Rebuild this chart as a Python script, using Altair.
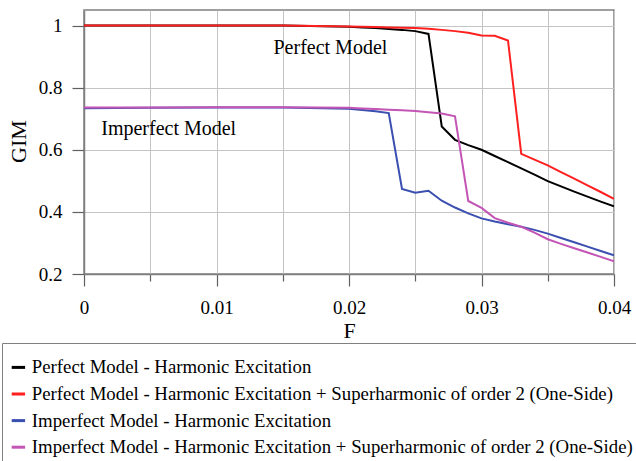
import altair as alt
import pandas as pd

# ---------------- data ----------------
F = [0, 0.005, 0.01, 0.015, 0.02, 0.021, 0.022, 0.023, 0.024, 0.025, 0.026,
     0.027, 0.028, 0.029, 0.030, 0.031, 0.032, 0.033, 0.034, 0.035, 0.036,
     0.037, 0.038, 0.039, 0.040]

perfect_harm = [1.0, 1.0, 1.0, 1.0, 0.996, 0.994, 0.992, 0.989, 0.986, 0.982, 0.973,
                0.675, 0.632, 0.615, 0.600, 0.580, 0.560, 0.540, 0.520, 0.499, 0.482,
                0.465, 0.449, 0.433, 0.418]
perfect_super = [1.0, 1.0, 1.0, 1.0, 0.997, 0.996, 0.995, 0.994, 0.993, 0.992, 0.990,
                 0.986, 0.982, 0.977, 0.968, 0.967, 0.952, 0.587, 0.568, 0.550, 0.528,
                 0.507, 0.485, 0.464, 0.442]
imperfect_harm = [0.734, 0.735, 0.736, 0.736, 0.732, 0.728, 0.724, 0.718, 0.474, 0.462, 0.468,
                  0.436, 0.414, 0.395, 0.379, 0.369, 0.360, 0.352, 0.342, 0.330, 0.316,
                  0.302, 0.288, 0.274, 0.260]
imperfect_super = [0.736, 0.736, 0.737, 0.737, 0.735, 0.733, 0.731, 0.729, 0.727, 0.725, 0.721,
                   0.717, 0.708, 0.435, 0.413, 0.380, 0.365, 0.352, 0.333, 0.312, 0.297,
                   0.283, 0.269, 0.255, 0.241]

series_names = [
    "Perfect Model - Harmonic Excitation",
    "Perfect Model - Harmonic Excitation + Superharmonic of order 2 (One-Side)",
    "Imperfect Model - Harmonic Excitation",
    "Imperfect Model - Harmonic Excitation + Superharmonic of order 2 (One-Side)",
]
series_colors = ["#000000", "#ff1f1f", "#3a4fb0", "#c355b5"]

x_ticks = [0, 0.005, 0.01, 0.015, 0.02, 0.025, 0.03, 0.035, 0.04]
y_ticks = [0.2, 0.3, 0.4, 0.5, 0.6, 0.7, 0.8, 0.9, 1.0]

note_text = ["Perfect Model", "Imperfect Model"]
note_F = [0.0143, 0.0013]
note_G = [0.928, 0.666]

# ---------------- tables ----------------
rows = []
for name, vals in zip(series_names,
                      [perfect_harm, perfect_super, imperfect_harm, imperfect_super]):
    for f, g in zip(F, vals):
        rows.append({"F": f, "GIM": g, "series": name})
df = pd.DataFrame(rows)
notes = pd.DataFrame({"F": note_F, "GIM": note_G, "text": note_text})

FONT = "'Liberation Serif', 'Times New Roman', Times, serif"
major_x = "abs(datum.value*100 - round(datum.value*100)) < 1e-6"
major_y = "abs(datum.value*5 - round(datum.value*5)) < 1e-6"

x_scale = alt.Scale(domain=[0, 0.04], nice=False, zero=False)
y_scale = alt.Scale(domain=[0.2, 1.05], nice=False, zero=False)

x_axis = alt.Axis(
    values=x_ticks, title="F",
    labelExpr=f"({major_x}) ? (datum.value == 0 ? '0' : format(datum.value, '.2f')) : ''",
    grid=True,
    tickSize={"condition": {"test": major_x, "value": 12}, "value": 7},
    labelPadding=12, labelFlush=False, labelOverlap=False,
    titleX=265, titleY=56, titleBaseline="middle",
)
y_axis = alt.Axis(
    values=y_ticks, title="GIM",
    labelExpr=f"({major_y}) ? (datum.value == 1 ? '1' : format(datum.value, '.1f')) : ''",
    grid=True,
    gridOpacity={"condition": {"test": major_y, "value": 1}, "value": 0},
    tickSize={"condition": {"test": major_y, "value": 12}, "value": 6},
    labelPadding=10, labelFlush=False, labelOverlap=False,
    titleX=-66, titleY=131, titleBaseline="middle", titleAngle=270,
)

lines = alt.Chart(df).mark_line(strokeWidth=2, clip=True).encode(
    x=alt.X("F:Q", scale=x_scale, axis=x_axis),
    y=alt.Y("GIM:Q", scale=y_scale, axis=y_axis),
    color=alt.Color(
        "series:N",
        scale=alt.Scale(domain=series_names, range=series_colors),
        legend=alt.Legend(
            title=" ", titleFontSize=6, titlePadding=2,
            orient="none", legendX=-82, legendY=333,
            direction="vertical",
            symbolType="stroke", symbolSize=180, symbolStrokeWidth=3,
            labelFont=FONT, labelFontSize=18.8, labelColor="#000000",
            labelLimit=800, labelOffset=4, rowPadding=6.6, padding=7,
            strokeColor="#808080", fillColor="#ffffff",
        ),
    ),
)

texts = alt.Chart(notes).mark_text(
    font=FONT, fontSize=20, align="left", baseline="middle", color="#000000"
).encode(
    x=alt.X("F:Q", scale=x_scale),
    y=alt.Y("GIM:Q", scale=y_scale),
    text="text:N",
)

chart = (lines + texts).properties(
    width=530, height=264,
    padding={"left": 84, "top": 10, "right": 22, "bottom": 187},
    autosize="none",
    background="#ffffff",
).configure_view(
    stroke="#808080", strokeWidth=1.5
).configure_axis(
    domainColor="#808080", domainWidth=1.5,
    tickColor="#606060", tickWidth=1.2,
    gridColor="#c4c4c4", gridWidth=1,
    labelFont=FONT, labelFontSize=19, labelColor="#000000",
    titleFont=FONT, titleFontSize=22, titleColor="#000000", titleFontWeight="normal",
)

chart.save("out.html", embed_options={"renderer": "svg", "actions": False})
